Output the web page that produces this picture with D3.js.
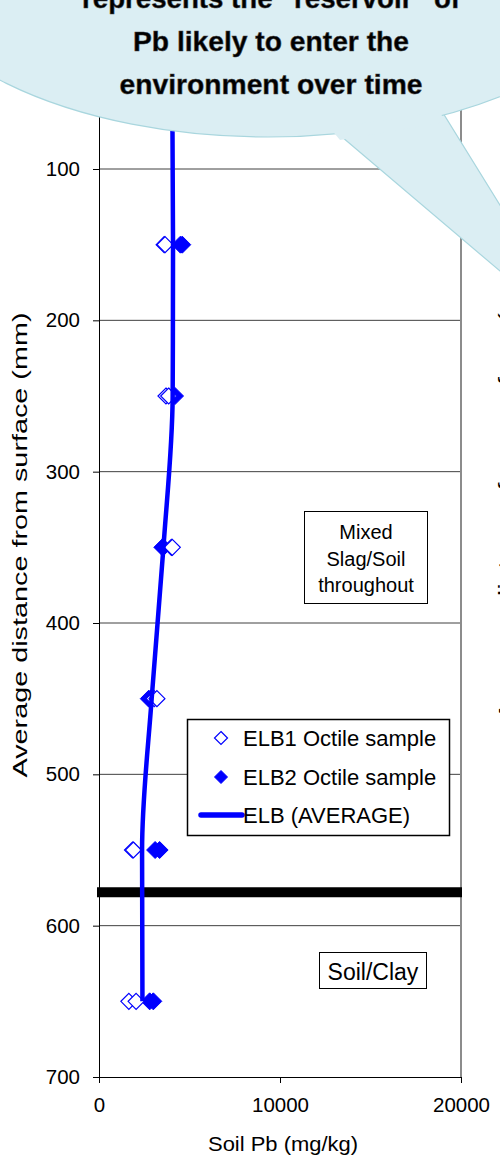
<!DOCTYPE html>
<html><head><meta charset="utf-8">
<script src="https://cdn.jsdelivr.net/npm/d3@7"></script>
<style>
body{margin:0;background:#fff}
svg{display:block}
text{font-family:"Liberation Sans",Arial,Helvetica,sans-serif}
</style>
</head><body>
<svg id="c" width="500" height="1160"></svg>
<script>
// ---- data ----
const yTicks = [100, 200, 300, 400, 500, 600, 700];
const xTicks = [0, 10000, 20000];
const elb1Depth = [150,150,250,250,350,350,450,450,550,550,650,650];
const elb1Pb    = [3600,3650,3700,3850,4000,4050,3050,3200,1850,1900,1650,2050];
const elb2Depth = [150,150,250,250,350,350,450,450,550,550,650,650];
const elb2Pb    = [4500,4600,4100,4200,3500,3550,2750,2850,3100,3350,2800,3000];
const avgDepth  = [50,150,250,350,450,550,650];
const avgPb     = [4050,4090,4070,3560,2910,2380,2400];
const boundaryDepth = 578;
const seriesNames = ["ELB1 Octile sample","ELB2 Octile sample","ELB (AVERAGE)"];
const calloutLines = ["represents the \u201Creservoir\u201D of","Pb likely to enter the","environment over time"];
const mixedLines = ["Mixed","Slag/Soil","throughout"];
const soilLabel = "Soil/Clay";
const xTitle = "Soil Pb (mg/kg)";
const yTitle = "Average distance from surface (mm)";

const svg = d3.select("#c");
const x = d3.scaleLinear().domain([0,20000]).range([99,461]);
const y = d3.scaleLinear().domain([0,700]).range([17.67,1077]);
const blue = "#0000FF";
const FF = '"Liberation Sans",Arial,sans-serif';

// grid lines
svg.append("g").selectAll("line").data(yTicks.filter(d=>d<700)).join("line")
  .attr("x1",x(0)).attr("x2",x(20000)).attr("y1",d=>y(d)).attr("y2",d=>y(d))
  .attr("stroke","#404040").attr("stroke-width",1);

// right plot border
svg.append("line").attr("x1",x(20000)).attr("x2",x(20000)).attr("y1",y(0)).attr("y2",y(700))
  .attr("stroke","#8c8c8c").attr("stroke-width",2);

// axes
const yAxis = svg.append("g").attr("transform",`translate(${x(0)},0)`)
  .call(d3.axisLeft(y).tickValues(yTicks).tickSize(6).tickSizeOuter(0).tickPadding(13));
yAxis.selectAll("text").attr("font-size",20.5).attr("fill","#000").style("font-family",FF);
yAxis.selectAll("line,path").attr("stroke","#000");

const xAxis = svg.append("g").attr("transform",`translate(0,${y(700)})`)
  .call(d3.axisBottom(x).tickValues(xTicks).tickSize(6).tickSizeOuter(0).tickPadding(14).tickFormat(d3.format("d")));
xAxis.selectAll("text").attr("font-size",20.5).attr("fill","#000").style("font-family",FF);
xAxis.selectAll("line,path").attr("stroke","#000");

// thick boundary line
svg.append("line").attr("x1",97).attr("x2",x(20000)+1).attr("y1",y(boundaryDepth)).attr("y2",y(boundaryDepth))
  .attr("stroke","#000").attr("stroke-width",10);

// Mixed box
svg.append("rect").attr("x",304.5).attr("y",511.5).attr("width",123).attr("height",92)
  .attr("fill","#fff").attr("stroke","#000").attr("stroke-width",1);
svg.append("g").selectAll("text").data(mixedLines).join("text")
  .attr("x",366).attr("y",(d,i)=>539+i*26.5).attr("text-anchor","middle").attr("font-size",20).text(d=>d);

// Soil box
svg.append("rect").attr("x",319.5).attr("y",952.5).attr("width",107).attr("height",36)
  .attr("fill","#fff").attr("stroke","#000").attr("stroke-width",1);
svg.append("text").attr("x",373).attr("y",980).attr("text-anchor","middle").attr("font-size",23).text(soilLabel);

// markers
const dpath = (r)=>`M0,${-r}L${r},0L0,${r}L${-r},0Z`;
svg.append("g").selectAll("path").data(elb2Depth.map((d,i)=>[elb2Pb[i],d])).join("path")
  .attr("d",dpath(8.5)).attr("transform",d=>`translate(${x(d[0])},${y(d[1])})`)
  .attr("fill",blue).attr("stroke",blue).attr("stroke-width",1);
svg.append("g").selectAll("path").data(elb1Depth.map((d,i)=>[elb1Pb[i],d])).join("path")
  .attr("d",dpath(8)).attr("transform",d=>`translate(${x(d[0])},${y(d[1])})`)
  .attr("fill","#fff").attr("stroke",blue).attr("stroke-width",1.2);

// average line
const line = d3.line().x(d=>x(d[0])).y(d=>y(d[1])).curve(d3.curveMonotoneY);
svg.append("path").datum(avgDepth.map((d,i)=>[avgPb[i],d])).attr("d",line)
  .attr("fill","none").attr("stroke",blue).attr("stroke-width",4.5).attr("stroke-linejoin","round");

// legend
svg.append("rect").attr("x",187.5).attr("y",719.5).attr("width",262).attr("height",116)
  .attr("fill","#fff").attr("stroke","#000").attr("stroke-width",1.5);
const lg = svg.append("g");
const rows = [738,777,815];
lg.append("path").attr("d",dpath(6.5)).attr("transform",`translate(221,${rows[0]})`).attr("fill","#fff").attr("stroke",blue).attr("stroke-width",1.2);
lg.append("path").attr("d",dpath(6.5)).attr("transform",`translate(221,${rows[1]})`).attr("fill",blue).attr("stroke",blue);
lg.append("line").attr("x1",201).attr("x2",242).attr("y1",rows[2]).attr("y2",rows[2]).attr("stroke",blue).attr("stroke-width",5.5).attr("stroke-linecap","round");
lg.selectAll("text").data(seriesNames).join("text")
  .attr("x",243).attr("y",(d,i)=>rows[i]+8).attr("font-size",22).text(d=>d);

// axis titles
svg.append("text").attr("x",283).attr("y",1151).attr("text-anchor","middle").attr("font-size",21)
  .attr("textLength",150).attr("lengthAdjust","spacingAndGlyphs").text(xTitle);
svg.append("text").attr("transform","translate(27,545) rotate(-90)").attr("text-anchor","middle").attr("font-size",20)
  .attr("textLength",465).attr("lengthAdjust","spacingAndGlyphs").text(yTitle);
// neighbouring chart's title, mostly outside the frame
svg.append("text").attr("transform","translate(513,488) rotate(-90)").attr("text-anchor","middle").attr("font-size",20)
  .attr("textLength",465).attr("lengthAdjust","spacingAndGlyphs").text(yTitle);

// callout
const cg = svg.append("g");
const cx=268, cy=-46, rx=370, ry=183;
cg.append("path").attr("d",`M322,120 L586,344 L438,105 Z`).attr("fill","#DBEEF3").attr("stroke","#A9D6DE").attr("stroke-width",1.2);
cg.append("ellipse").attr("cx",cx).attr("cy",cy).attr("rx",rx).attr("ry",ry).attr("fill","#DBEEF3").attr("stroke","#A9D6DE").attr("stroke-width",1.2);
cg.append("path").attr("d",`M330,128 L440,112 L445,122 L340,140 Z`).attr("fill","#DBEEF3");
const lens=[378,276,303];
cg.selectAll("text").data(calloutLines).join("text")
  .attr("x",271).attr("y",(d,i)=>8+i*43).attr("text-anchor","middle")
  .attr("font-size",27).attr("font-weight","bold").attr("fill","#000")
  .attr("stroke","#444").attr("stroke-width",0.5)
  .attr("textLength",(d,i)=>lens[i]).attr("lengthAdjust","spacingAndGlyphs").text(d=>d);
</script>
</body></html>
